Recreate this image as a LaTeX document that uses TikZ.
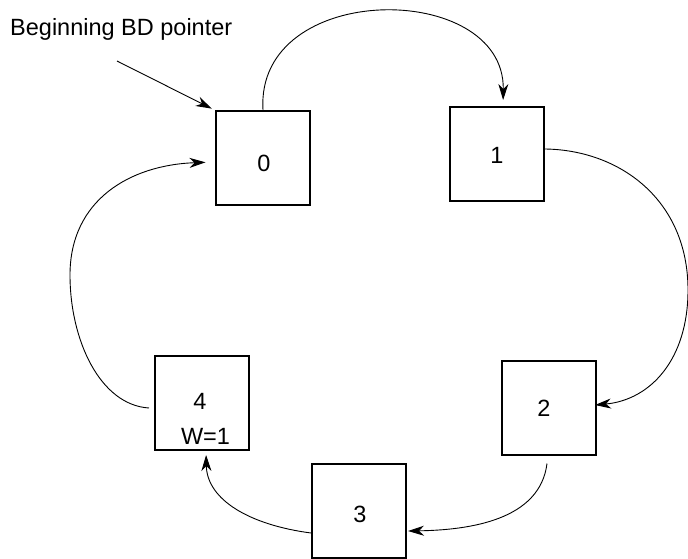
\documentclass[tikz,border=0pt]{standalone}
\usepackage{fontspec}
\setmainfont{Liberation Sans}
\usetikzlibrary{arrows.meta}
\begin{document}
\begin{tikzpicture}[x=1pt,y=-1pt,
  box/.style={draw,rectangle,line width=2pt,minimum width=94pt,minimum height=94pt,inner sep=0pt},
  lbl/.style={inner sep=0pt,font=\fontsize{23.5}{28}\selectfont},
  link/.style={line width=0.9pt,-{Stealth[length=16pt,width=10pt,inset=5pt]}}]
\useasboundingbox (0,0) rectangle (688,559);
\node[box] (n0) at (262.5,158) {};
\node[box] (n1) at (497,154) {};
\node[box] (n2) at (549,407.5) {};
\node[box] (n3) at (359,510.5) {};
\node[box] (n4) at (202,403) {};
\node[lbl] (t0) at (264,163) {0};
\node[lbl] (t1) at (497,155) {1};
\node[lbl] (t2) at (544,408) {2};
\node[lbl] (t3) at (360,514) {3};
\node[lbl] (t4) at (200,401) {4};
\node[lbl] (tw) at (205.5,436.5) {W=1};
\node[lbl,anchor=base west] (title) at (10,36) {Beginning BD pointer};
\coordinate (p0) at (117,61);
\draw[link,shorten >=3pt] (p0) -- (n0.north west);
% 0 -> 1
\draw[link,shorten >=6pt] ([xshift=0.5pt]n0.north) .. controls (255,-20) and (505,-20) .. ([shift={(6,0)}]n1.north);
% 1 -> 2
\draw[link] ([shift={(0,-5)}]n1.east) .. controls (620,150) and (688,200) .. (688,290)
  .. controls (688,360) and (650,400) .. ([shift={(-2,-2.5)}]n2.east);
% 2 -> 3
\draw[link] ([shift={(-2,8)}]n2.south) .. controls (540,520) and (470,530) .. ([shift={(1,20.5)}]n3.east);
% 3 -> 4
\draw[link,shorten >=4pt] ([shift={(0,22.5)}]n3.west) .. controls (250,525) and (207,500) .. ([shift={(4,0)}]n4.south);
% 4 -> 0
\draw[link,shorten >=9pt] ([shift={(-5,5)}]n4.west) .. controls (100,405) and (70,340) .. (70,275)
  .. controls (70,200) and (130,165) .. ([shift={(0,4)}]n0.west);
\end{tikzpicture}
\end{document}
